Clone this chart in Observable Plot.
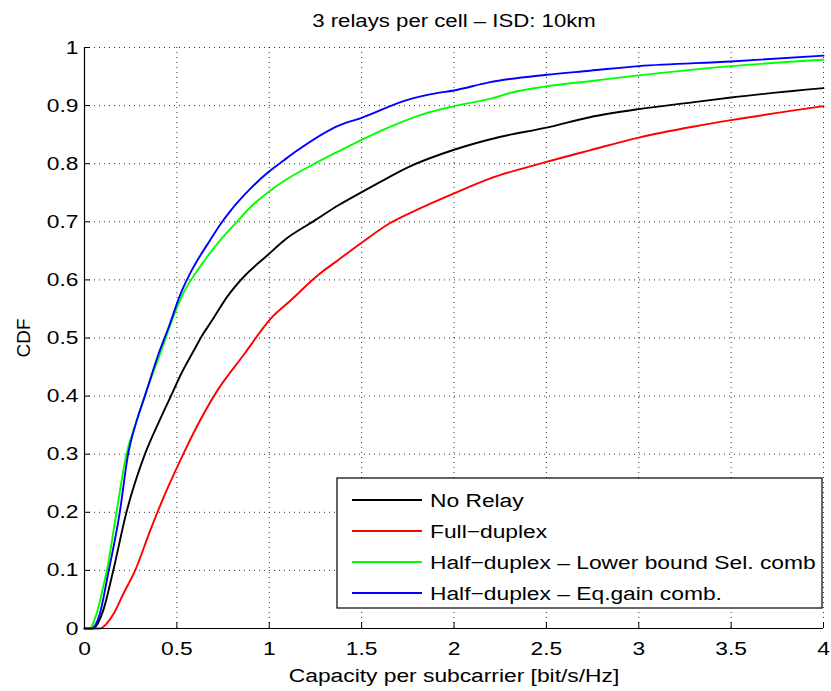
<!DOCTYPE html>
<html>
<head>
<meta charset="utf-8">
<script src="https://cdn.jsdelivr.net/npm/d3@7"></script>
<script src="https://cdn.jsdelivr.net/npm/@observablehq/plot@0.6"></script>
<style>
  html, body { margin: 0; padding: 0; background: #fff; }
  #chart svg { display: block; }
</style>
</head>
<body>
<div id="chart"></div>
<script>
const titleText = "3 relays per cell \u2013 ISD: 10km";
const xLabel = "Capacity per subcarrier [bit/s/Hz]";
const yLabel = "CDF";

const series = [
  "No Relay",
  "Full\u2212duplex",
  "Half\u2212duplex \u2013 Lower bound Sel. comb",
  "Half\u2212duplex \u2013 Eq.gain comb."
];
const colors = ["#000000", "#ff0000", "#00ff00", "#0000ff"];

const xTicks = [0, 0.5, 1, 1.5, 2, 2.5, 3, 3.5, 4];
const yTicks = [0, 0.1, 0.2, 0.3, 0.4, 0.5, 0.6, 0.7, 0.8, 0.9, 1];

// No Relay
const noRelayX = [0, 0.045, 0.1, 0.155, 0.227, 0.327, 0.409, 0.482, 0.518, 0.591, 0.636, 0.69, 0.77, 0.87, 0.989, 1.08, 1.245, 1.372, 1.5, 1.614, 1.759, 2.0, 2.247, 2.5, 2.735, 3.0, 3.3, 3.5, 4.0];
const noRelayY = [0, 0, 0.03, 0.099, 0.2, 0.3, 0.36, 0.41, 0.435, 0.478, 0.504, 0.53, 0.57, 0.608, 0.642, 0.668, 0.702, 0.728, 0.751, 0.771, 0.795, 0.824, 0.846, 0.862, 0.88, 0.894, 0.906, 0.914, 0.93];

// Full-duplex
const fullX = [0, 0.082, 0.155, 0.209, 0.273, 0.355, 0.427, 0.518, 0.591, 0.718, 0.864, 1.007, 1.117, 1.263, 1.372, 1.5, 1.65, 1.795, 2.0, 2.19, 2.5, 2.735, 3.0, 3.3, 3.5, 4.0];
const fullY = [0, 0, 0.024, 0.059, 0.099, 0.168, 0.225, 0.289, 0.337, 0.409, 0.472, 0.533, 0.565, 0.608, 0.634, 0.664, 0.697, 0.72, 0.749, 0.774, 0.803, 0.823, 0.845, 0.864, 0.875, 0.899];

// Half-duplex - Lower bound Sel. comb
const halfSelX = [0, 0.027, 0.064, 0.1, 0.127, 0.173, 0.227, 0.282, 0.336, 0.409, 0.473, 0.533, 0.624, 0.734, 0.825, 0.898, 1.007, 1.099, 1.263, 1.38, 1.5, 1.65, 1.83, 2.0, 2.21, 2.32, 2.5, 2.735, 3.0, 3.5, 4.0];
const halfSelY = [0, 0, 0.024, 0.07, 0.11, 0.2, 0.3, 0.357, 0.41, 0.472, 0.53, 0.576, 0.622, 0.668, 0.70, 0.725, 0.754, 0.774, 0.803, 0.822, 0.841, 0.863, 0.885, 0.899, 0.913, 0.923, 0.933, 0.942, 0.952, 0.968, 0.979];

// Half-duplex - Eq.gain comb.
const halfEqX = [0, 0.036, 0.082, 0.127, 0.191, 0.236, 0.282, 0.327, 0.4, 0.455, 0.52, 0.578, 0.679, 0.734, 0.788, 0.898, 0.989, 1.08, 1.153, 1.379, 1.5, 1.74, 1.9, 2.0, 2.19, 2.5, 2.735, 3.0, 3.5, 4.0];
const halfEqY = [0, 0, 0.024, 0.093, 0.2, 0.3, 0.357, 0.4, 0.472, 0.518, 0.576, 0.615, 0.668, 0.695, 0.718, 0.757, 0.784, 0.806, 0.823, 0.866, 0.879, 0.909, 0.921, 0.926, 0.94, 0.953, 0.96, 0.968, 0.976, 0.986];

const seriesX = [noRelayX, fullX, halfSelX, halfEqX];
const seriesY = [noRelayY, fullY, halfSelY, halfEqY];

const rows = [];
series.forEach((name, i) => {
  seriesX[i].forEach((x, j) => rows.push({series: name, x, y: seriesY[i][j]}));
});

const font = "'Liberation Sans', Arial, Helvetica, sans-serif";
const fmt = d => String(+d.toFixed(2));
const noLabel = () => "";
const gridStyle = {stroke: "#000", strokeOpacity: 0.8, strokeDasharray: "1,4"};

const chart = Plot.plot({
  width: 831,
  height: 691,
  marginLeft: 84,
  marginRight: 8,
  marginTop: 47,
  marginBottom: 63,
  style: {fontFamily: font, fontSize: "19px", background: "#fff", color: "#000"},
  x: {domain: [0, 4], label: null},
  y: {domain: [0, 1], label: null},
  color: {domain: series, range: colors},
  marks: [
    Plot.gridX(xTicks, gridStyle),
    Plot.gridY(yTicks, gridStyle),
    Plot.line(rows, {x: "x", y: "y", z: "series", stroke: "series", strokeWidth: 1.9, curve: "monotone-x"}),
    Plot.ruleX([0], {stroke: "#000", strokeWidth: 1.2}),
    Plot.ruleY([0], {stroke: "#000", strokeWidth: 1.2}),
    // inward tick marks
    Plot.axisX(xTicks, {tickSize: 6, dy: -6, tickFormat: noLabel, stroke: "#000"}),
    Plot.axisY(yTicks, {tickSize: 6, dx: 6, tickFormat: noLabel, stroke: "#000"}),
    // tick labels
    Plot.axisX(xTicks, {tickSize: 0, tickPadding: 13, tickFormat: fmt, fontSize: 19}),
    Plot.axisY(yTicks, {tickSize: 0, tickPadding: 6, tickFormat: fmt, fontSize: 19}),
    Plot.text([titleText], {frameAnchor: "top", lineAnchor: "middle", dy: -26, fontSize: 18.5}),
    Plot.text([xLabel], {frameAnchor: "bottom", lineAnchor: "middle", dy: 47, fontSize: 19}),
    Plot.text([yLabel], {frameAnchor: "left", textAnchor: "middle", lineAnchor: "middle", dx: -61, rotate: -90, fontSize: 19})
  ]
});

document.getElementById("chart").appendChild(chart);

// Legend box (MATLAB style, inside plot at lower right)
const svg = d3.select(chart);
const lg = svg.append("g").attr("font-family", font).attr("font-size", 19).attr("text-anchor", "start");
const box = {x: 337, y: 478, w: 485, h: 130};
lg.append("rect").attr("x", box.x).attr("y", box.y).attr("width", box.w).attr("height", box.h)
  .attr("fill", "#fff").attr("stroke", "#000").attr("stroke-width", 1.2);
series.forEach((name, i) => {
  const cy = box.y + 22 + i * 31;
  lg.append("line").attr("x1", box.x + 15).attr("x2", box.x + 85).attr("y1", cy).attr("y2", cy)
    .attr("stroke", colors[i]).attr("stroke-width", 1.9);
  lg.append("text").attr("x", box.x + 93).attr("y", cy).attr("dy", "0.35em")
    .attr("text-anchor", "start").attr("fill", "#000").text(name);
});

// Horizontal stretch of horizontal text to match the reference's wide lettering
svg.selectAll("text").each(function() {
  const t = this.getAttribute("transform") || "";
  if (t.includes("rotate")) return;
  const x = +(this.getAttribute("x") || 0);
  const y = +(this.getAttribute("y") || 0);
  const s = "scale(1.2,1)";
  this.setAttribute("transform", (x || y)
    ? `${t} translate(${x},${y}) ${s} translate(${-x},${-y})`
    : `${t} ${s}`);
});
</script>
</body>
</html>
